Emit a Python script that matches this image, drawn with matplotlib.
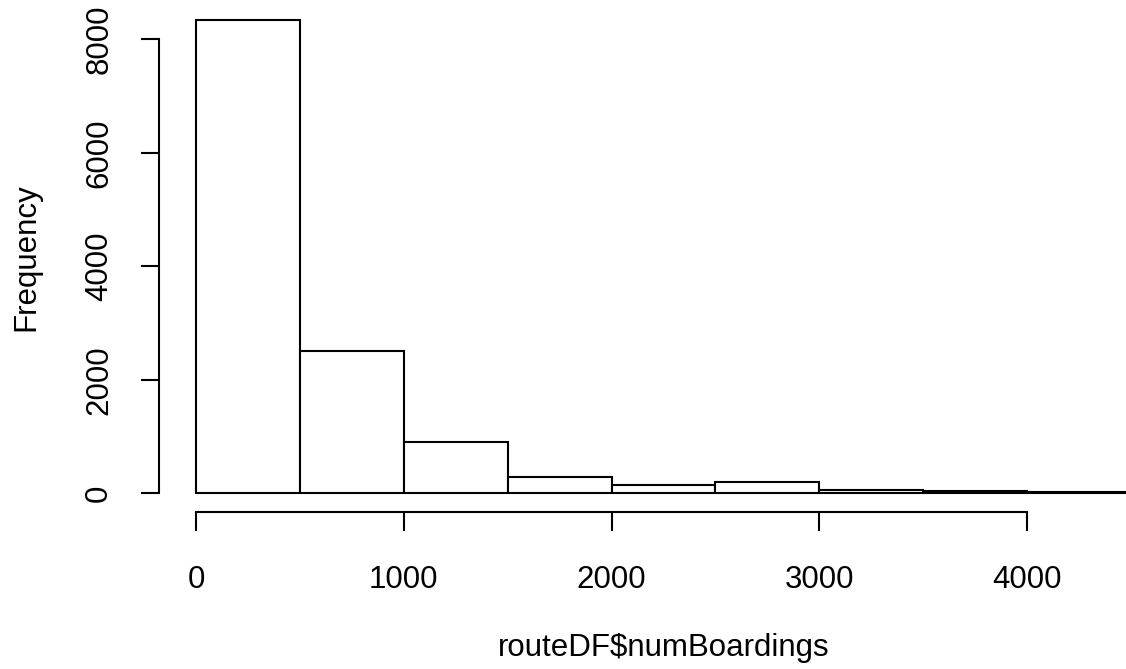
import matplotlib

matplotlib.use("Agg")
import matplotlib.pyplot as plt
import numpy as np

# histogram of routeDF$numBoardings, bins of 500
breaks = np.arange(0, 5000, 500)
counts = [8340, 2502, 899, 282, 146, 194, 58, 40, 22]
x_ticks = [0, 1000, 2000, 3000, 4000]
y_ticks = [0, 2000, 4000, 6000, 8000]

plt.rcParams["font.family"] = ["Liberation Sans", "DejaVu Sans"]
plt.rcParams["font.size"] = 22.5

W, H = 1126, 669
figure = plt.figure(figsize=(W / 100, H / 100), dpi=100)
# R-style plot region, in pixels; the right edge runs past the figure like the original
left, right, top, bottom = 158.6, 1168.5, 1.1, 512.2
axis = figure.add_axes([left / W, (H - bottom) / H, (right - left) / W, (bottom - top) / H])

axis.bar(breaks[:-1], counts, width=np.diff(breaks), align="edge",
         facecolor="white", edgecolor="black", linewidth=1.5)

span = breaks[-1] - breaks[0]
axis.set_xlim(breaks[0] - 0.04 * span, breaks[-1] + 0.04 * span)
axis.set_ylim(-0.04 * max(counts), 1.04 * max(counts))

for side in ("top", "right"):
    axis.spines[side].set_visible(False)
axis.spines["left"].set_bounds(y_ticks[0], y_ticks[-1])
axis.spines["bottom"].set_bounds(x_ticks[0], x_ticks[-1])
axis.spines["left"].set_linewidth(1.5)
axis.spines["bottom"].set_linewidth(1.5)

axis.set_xticks(x_ticks, [str(v) for v in x_ticks])
axis.set_yticks(y_ticks, [str(v) for v in y_ticks], rotation=90, va="center")
axis.tick_params(axis="x", length=13.7, width=1.5, pad=24)
axis.tick_params(axis="y", length=13, width=1.5, pad=19)

axis.set_xlabel("routeDF$numBoardings", labelpad=28)
axis.set_ylabel("Frequency", labelpad=31)

figure.savefig("out.png", dpi=100)
plt.close(figure)
